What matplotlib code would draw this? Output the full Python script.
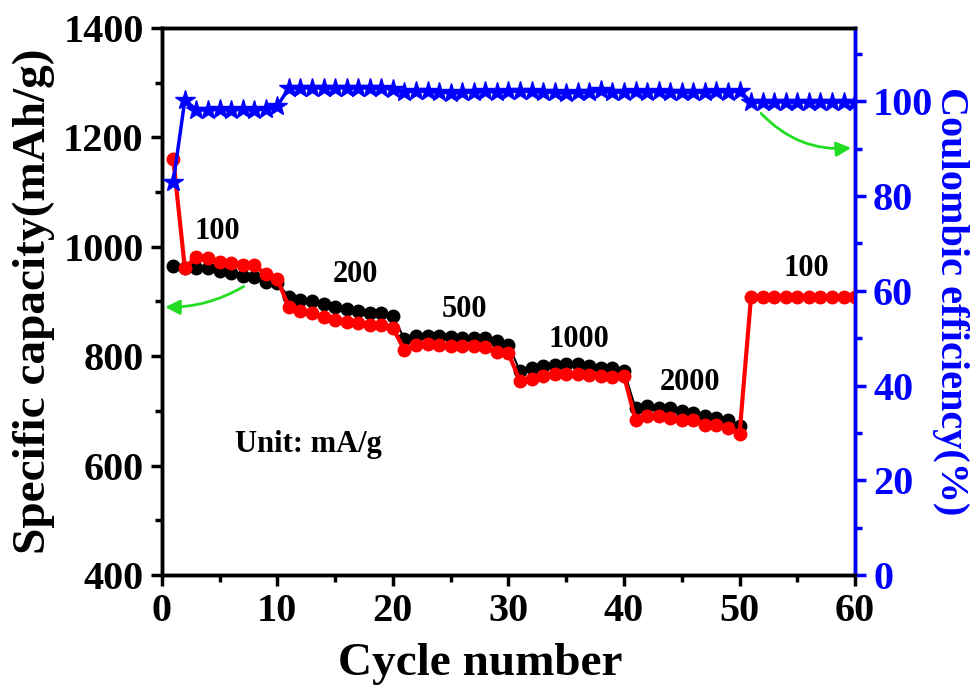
import matplotlib
matplotlib.use('Agg')
import matplotlib.pyplot as plt
from matplotlib.ticker import MultipleLocator

plt.rcParams['font.family'] = ['Liberation Serif', 'DejaVu Serif']
plt.rcParams['font.weight'] = 'bold'

# cycle numbers
cycles = list(range(1, 61))
cycles_black = list(range(1, 51))

# capacity (mAh/g), black series (cycles 1-50)
cap_black = [965, 961, 962, 961, 955, 952, 947, 945, 935, 934,
             909, 903, 900, 896, 890, 887, 883, 878, 878, 873,
             832, 836, 837, 837, 835, 833, 833, 833, 827, 821,
             773, 779, 782, 783, 785, 785, 782, 779, 779, 773,
             705, 708, 706, 705, 699, 696, 690, 687, 684, 672]

# capacity (mAh/g), red series (cycles 1-60)
cap_red = [1160, 961, 982, 980, 973, 970, 966, 966, 950, 941,
           890, 882, 878, 872, 866, 863, 860, 857, 857, 851,
           812, 820, 822, 820, 818, 818, 818, 816, 808, 805,
           755, 758, 764, 767, 767, 767, 766, 764, 761, 764,
           684, 690, 690, 687, 684, 684, 675, 675, 669, 657,
           909, 908, 908, 908, 908, 908, 908, 908, 908, 908]

# coulombic efficiency (%)
ce = [83.0, 100.3, 98.2, 98.2, 98.3, 98.2, 98.3, 98.2, 98.4, 99.0,
      102.8, 102.9, 102.8, 102.9, 102.8, 102.9, 102.8, 102.9, 102.8, 102.6,
      102.0, 102.2, 102.1, 102.0, 101.8, 101.9, 102.0, 102.1, 102.0, 102.1,
      102.2, 102.1, 102.0, 101.9, 101.8, 101.9, 102.0, 102.3, 102.0, 101.9,
      102.1, 102.0, 102.1, 102.0, 102.0, 101.9, 102.0, 102.1, 102.0, 102.2,
      99.9, 99.8, 99.9, 99.9, 99.8, 99.9, 99.9, 99.8, 99.9, 99.9]

# current density labels
rate_labels = ['100', '200', '500', '1000', '2000', '100']
rate_x = [4.8, 16.8, 26.2, 36.1, 45.7, 55.8]
rate_y = [1027, 950, 886, 830, 751, 961]

fig = plt.figure(figsize=(9.79, 6.95), dpi=100)
ax = fig.add_axes([0.1652, 0.1727, 0.7082, 0.7871])

ax.plot(cycles_black, cap_black, color='black', lw=1.5, marker='o', ms=9, zorder=3)
ax.plot(cycles, cap_red, color='red', lw=3, marker='o', ms=9, zorder=4)

ax.set_xlim(0, 60)
ax.set_ylim(400, 1400)
ax.xaxis.set_major_locator(MultipleLocator(10))
ax.xaxis.set_minor_locator(MultipleLocator(5))
ax.yaxis.set_major_locator(MultipleLocator(200))
ax.yaxis.set_minor_locator(MultipleLocator(100))
ax.tick_params(which='both', direction='out', width=2.5, labelsize=29, pad=5)
ax.tick_params(which='major', length=8)
ax.tick_params(which='minor', length=5)
for s in ax.spines.values():
    s.set_linewidth(2.5)

ax.set_xlabel('Cycle number', fontsize=34, fontweight='bold')
ax.xaxis.set_label_coords(0.46, -0.125)
ax.set_ylabel('Specific capacity(mAh/g)', fontsize=34, fontweight='bold', labelpad=6)

for t, x, y in zip(rate_labels, rate_x, rate_y):
    ax.text(x, y, t, fontsize=22, fontweight='bold', ha='center', va='center')
ax.text(12.7, 638, 'Unit: mA/g', fontsize=22, fontweight='bold', ha='center', va='center')

ax.annotate('', xy=(0.05, 890), xytext=(7.3, 930),
            arrowprops=dict(arrowstyle='-|>', color='#22DD22', lw=2,
                            mutation_scale=22,
                            connectionstyle='arc3,rad=-0.15'))

ax2 = ax.twinx()
ax2.plot(cycles, ce, color='blue', lw=2.5, marker='*', ms=15, zorder=5)
ax2.set_ylim(0, 115.5)
ax2.yaxis.set_major_locator(MultipleLocator(20))
ax2.yaxis.set_minor_locator(MultipleLocator(10))
ax2.tick_params(which='both', direction='out', width=2.5, labelsize=29, pad=5,
                colors='blue')
ax2.tick_params(which='major', length=8)
ax2.tick_params(which='minor', length=5)
ax2.spines['right'].set_color('blue')
for s in ax2.spines.values():
    s.set_linewidth(2.5)
ax2.set_ylabel('Coulombic efficiency(%)', fontsize=29, fontweight='bold',
               color='blue', rotation=270, labelpad=26)

ax2.annotate('', xy=(59.9, 90.2), xytext=(51.7, 97.9),
             arrowprops=dict(arrowstyle='-|>', color='#22DD22', lw=2,
                             mutation_scale=22,
                             connectionstyle='arc3,rad=0.25'))

fig.savefig('out.png', dpi=100)
